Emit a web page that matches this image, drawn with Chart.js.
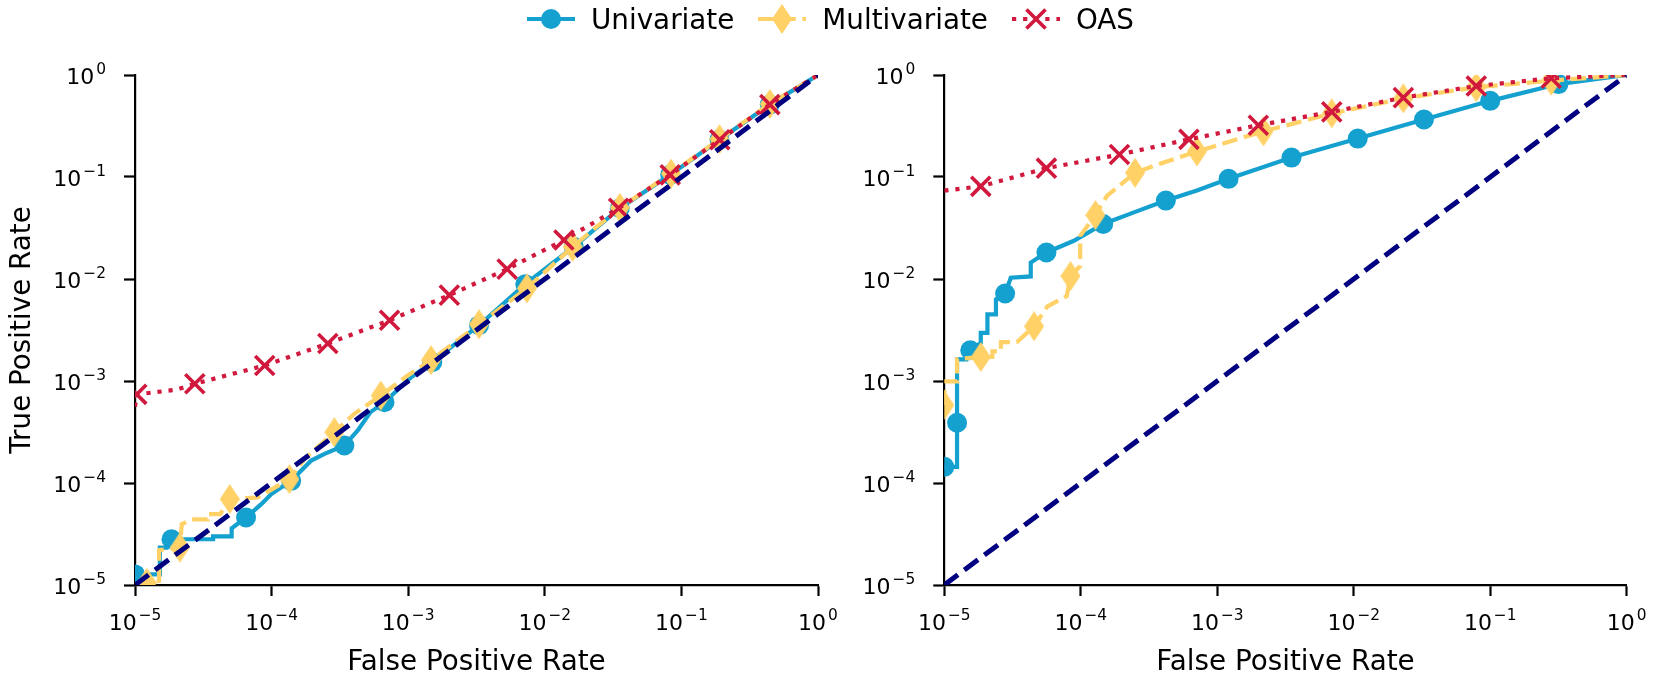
<!DOCTYPE html>
<html>
<head>
<meta charset="utf-8">
<title>ROC curves</title>
<script src="https://cdn.jsdelivr.net/npm/chart.js"></script>
<style>
  html, body { margin: 0; padding: 0; background: #fff; }
  #figure { position: relative; width: 1661px; height: 688px; overflow: hidden; font-family: 'DejaVu Sans', sans-serif; }
  #leftChart { position: absolute; left: 0; top: 0; }
  #rightChart { position: absolute; left: 830px; top: 0; }
  #legend { position: absolute; left: 0; top: 0; width: 1661px; height: 38px; display: flex; justify-content: center; align-items: center; z-index: 2; }
  .item { display: flex; align-items: center; font-size: 27.8px; color: #000; }
  .item + .item { margin-left: 24px; }
  .item canvas { margin-right: 16px; }
</style>
</head>
<body>
<div id="figure">
  <div id="legend"></div>
  <canvas id="leftChart" width="840" height="688"></canvas>
  <canvas id="rightChart" width="831" height="688"></canvas>
</div>
<script>
// axes: decade ticks, labelled 10^exp
const decades = [1e-5, 1e-4, 1e-3, 1e-2, 1e-1, 1];
const tickBase = '10';
const tickExponents = ['−5', '−4', '−3', '−2', '−1', '0'];
const seriesNames = ['Univariate', 'Multivariate', 'OAS'];

// chance line
const diagX = [1e-5, 1];
const diagY = [1e-5, 1];

// left panel - Univariate
const leftUniX = [1e-5, 1.52e-5, 1.52e-5, 1.7e-5, 1.7e-5, 1.85e-5, 3.73e-5, 3.73e-5, 5.1e-5, 5.1e-5, 6.5e-5, 8.4e-5, 9.95e-5, 1.39e-4, 1.95e-4, 2.44e-4, 3.41e-4, 4.27e-4, 5.3e-4, 6.7e-4, 1.05e-3, 1.5e-3, 3.3e-3, 7.2e-3, 0.0163, 0.0354, 0.0828, 0.19, 0.444, 1];
const leftUniY = [1.27e-5, 1.27e-5, 2.33e-5, 2.33e-5, 2.81e-5, 2.81e-5, 2.81e-5, 3.0e-5, 3.0e-5, 3.6e-5, 4.59e-5, 6.2e-5, 7.8e-5, 1.05e-4, 1.66e-4, 1.93e-4, 2.33e-4, 3.27e-4, 4.95e-4, 6.2e-4, 1.09e-3, 1.53e-3, 3.52e-3, 8.9e-3, 0.0207, 0.0494, 0.105, 0.232, 0.513, 1];
const leftUniMarks = [0, 5, 10, 13, 16, 19, 21, 22, 23, 24, 25, 26, 27, 28];

// left panel - Multivariate
const leftMulX = [1e-5, 1.22e-5, 1.5e-5, 1.5e-5, 2.13e-5, 2.2e-5, 2.6e-5, 3.4e-5, 3.4e-5, 4.2e-5, 4.94e-5, 7.9e-5, 1.35e-4, 1.74e-4, 2.88e-4, 4.03e-4, 6.3e-4, 9.9e-4, 1.47e-3, 3.3e-3, 7.4e-3, 0.016, 0.0354, 0.084, 0.19, 0.444, 1];
const leftMulY = [1.0e-5, 1.05e-5, 1.1e-5, 2.2e-5, 2.33e-5, 3.95e-5, 4.4e-5, 4.4e-5, 4.96e-5, 4.96e-5, 6.96e-5, 7.2e-5, 1.09e-4, 1.72e-4, 3.15e-4, 4.77e-4, 7.2e-4, 1.13e-3, 1.6e-3, 3.6e-3, 8.1e-3, 0.0207, 0.05, 0.108, 0.235, 0.52, 1];
const leftMulMarks = [1, 4, 10, 12, 14, 16, 18, 19, 20, 21, 22, 23, 24, 25];

// left panel - OAS
const leftOasX = [1e-5, 1.03e-5, 2.0e-5, 2.74e-5, 8.9e-5, 2.58e-4, 7.3e-4, 2.0e-3, 5.3e-3, 0.0138, 0.0347, 0.0828, 0.191, 0.444, 1];
const leftOasY = [5.6e-4, 7.4e-4, 8.2e-4, 9.4e-4, 1.42e-3, 2.33e-3, 3.94e-3, 6.95e-3, 0.0125, 0.0241, 0.0494, 0.105, 0.232, 0.513, 1];
const leftOasMarks = [1, 3, 4, 5, 6, 7, 8, 9, 10, 11, 12, 13];

// right panel - Univariate
const rightUniX = [1e-5, 1.24e-5, 1.24e-5, 1.24e-5, 1.45e-5, 1.45e-5, 1.55e-5, 1.85e-5, 1.85e-5, 2.07e-5, 2.07e-5, 2.39e-5, 2.39e-5, 2.79e-5, 3.07e-5, 4.3e-5, 4.3e-5, 5.6e-5, 8.9e-5, 1.46e-4, 2.45e-4, 4.2e-4, 7.1e-4, 1.21e-3, 3.5e-3, 0.0107, 0.0327, 0.1, 0.316, 1];
const rightUniY = [1.44e-4, 1.44e-4, 3.9e-4, 1.63e-3, 1.63e-3, 2.0e-3, 2.0e-3, 2.36e-3, 2.96e-3, 2.96e-3, 4.49e-3, 4.49e-3, 6.3e-3, 7.2e-3, 0.0103, 0.0106, 0.0145, 0.0182, 0.0237, 0.0346, 0.045, 0.0587, 0.0736, 0.096, 0.155, 0.238, 0.366, 0.558, 0.815, 1];
const rightUniMarks = [0, 2, 6, 13, 17, 19, 21, 23, 24, 25, 26, 27, 28];

// right panel - Multivariate
const rightMulX = [1e-5, 1e-5, 1.24e-5, 1.24e-5, 1.85e-5, 2.25e-5, 2.25e-5, 2.6e-5, 2.6e-5, 3.4e-5, 4.55e-5, 5.7e-5, 7.9e-5, 8.4e-5, 9.9e-5, 9.9e-5, 1.28e-4, 1.56e-4, 2.5e-4, 3.8e-4, 7.1e-4, 2.18e-3, 6.9e-3, 0.0231, 0.079, 0.28, 1];
const rightMulY = [5.8e-4, 9.9e-4, 9.9e-4, 1.64e-3, 1.72e-3, 1.72e-3, 1.95e-3, 1.95e-3, 2.4e-3, 2.4e-3, 3.44e-3, 5.4e-3, 6.8e-3, 0.0107, 0.0134, 0.0265, 0.0424, 0.0657, 0.11, 0.135, 0.178, 0.28, 0.42, 0.59, 0.76, 0.88, 1];
const rightMulMarks = [0, 4, 10, 13, 16, 18, 20, 21, 22, 23, 24, 25];

// right panel - OAS
const rightOasX = [1e-5, 1.85e-5, 5.6e-5, 1.92e-4, 6.2e-4, 2.0e-3, 6.9e-3, 0.0231, 0.079, 0.28, 1];
const rightOasY = [0.0736, 0.081, 0.122, 0.166, 0.234, 0.322, 0.435, 0.60, 0.78, 0.93, 1];
const rightOasMarks = [1, 2, 3, 4, 5, 6, 7, 8, 9];

const FONT = 'DejaVu Sans';
const BLUE = '#15a1cf';
const YELLOW = '#ffd166';
const RED = '#d1193e';
const NAVY = '#000080';
const LW = 4.2;

// thin diamond marker (matplotlib 'd')
function makeDiamond(w, h, color) {
    const c = document.createElement('canvas');
    c.width = w;
    c.height = h;
    const g = c.getContext('2d');
    g.fillStyle = color;
    g.beginPath();
    g.moveTo(w / 2, 0);
    g.lineTo(w, h / 2);
    g.lineTo(w / 2, h);
    g.lineTo(0, h / 2);
    g.closePath();
    g.fill();
    return c;
}
const diamond = makeDiamond(20, 30, YELLOW);

const styles = {
    uni: { color: BLUE, dash: [], pointStyle: 'circle', radius: 10, pointBorderWidth: 0 },
    mul: { color: YELLOW, dash: [15.5, 6.7], pointStyle: diamond, radius: 10, pointBorderWidth: 0 },
    oas: { color: RED, dash: [4.2, 6.9], pointStyle: 'crossRot', radius: 13.5, pointBorderWidth: 3.6 }
};

function series(label, xs, ys, marks, st, order) {
    return {
        label: label,
        data: xs.map((x, i) => ({ x: x, y: ys[i] })),
        borderColor: st.color,
        backgroundColor: st.color,
        borderWidth: LW,
        borderDash: st.dash,
        tension: 0,
        fill: false,
        pointStyle: st.pointStyle,
        pointRadius: ctx => marks.includes(ctx.dataIndex) ? st.radius : 0,
        pointBackgroundColor: st.color,
        pointBorderColor: st.color,
        pointBorderWidth: st.pointBorderWidth,
        pointHoverRadius: 0,
        clip: 0,
        order: order
    };
}

function diagonal() {
    return {
        label: 'chance',
        data: diagX.map((x, i) => ({ x: x, y: diagY[i] })),
        borderColor: NAVY,
        borderWidth: 5,
        borderDash: [17, 8],
        pointRadius: 0,
        fill: false,
        clip: 0,
        order: 0
    };
}

// "10" with a raised exponent, like matplotlib's mathtext tick labels
function drawPower(ctx, x, baseline, align, exp) {
    const big = '22px "' + FONT + '"';
    const small = '15.4px "' + FONT + '"';
    ctx.font = big;
    const wb = ctx.measureText(tickBase).width;
    ctx.font = small;
    const ws = ctx.measureText(exp).width;
    const gap = 2;
    const total = wb + gap + ws;
    const left = align === 'center' ? x - total / 2 : x - total;
    ctx.textAlign = 'left';
    ctx.textBaseline = 'alphabetic';
    ctx.font = big;
    ctx.fillText(tickBase, left, baseline);
    ctx.font = small;
    ctx.fillText(exp, left + wb + gap, baseline - 9.3);
}

const powerTicks = {
    id: 'powerTicks',
    afterDraw(chart) {
        const ctx = chart.ctx;
        const area = chart.chartArea;
        const xs = chart.scales.x;
        const ys = chart.scales.y;
        ctx.save();
        ctx.fillStyle = '#000';
        decades.forEach((v, i) => {
            drawPower(ctx, xs.getPixelForValue(v), area.bottom + 44.6, 'center', tickExponents[i]);
            drawPower(ctx, area.left - 29, ys.getPixelForValue(v) + 8.5, 'right', tickExponents[i]);
        });
        ctx.restore();
    }
};

function logAxis(isX, withTitle, fixedSize) {
    const axis = {
        type: 'logarithmic',
        min: 1e-5,
        max: 1,
        afterBuildTicks: (scale) => {
            scale.ticks = decades.map(v => ({ value: v }));
        },
        afterFit: (scale) => {
            if (isX) scale.height = fixedSize;
            else scale.width = fixedSize;
        },
        ticks: { display: false },
        grid: {
            drawOnChartArea: false,
            drawTicks: true,
            tickLength: 11,
            tickWidth: 2.2,
            tickColor: '#000'
        },
        border: { display: true, color: '#000', width: 2.2 }
    };
    if (withTitle) {
        axis.title = {
            display: true,
            text: isX ? 'False Positive Rate' : 'True Positive Rate',
            font: { family: FONT, size: 27.8 },
            color: '#000',
            padding: isX ? { top: 0, bottom: 9 } : { top: 6, bottom: 0 }
        };
    }
    return axis;
}

function createPanel(id, datasets, yWidth, padRight) {
    const ctx = document.getElementById(id);
    return new Chart(ctx, {
        type: 'line',
        data: { datasets: datasets },
        options: {
            responsive: false,
            animation: false,
            events: [],
            layout: { padding: { top: 75, right: padRight, bottom: 0, left: 0 } },
            plugins: {
                legend: { display: false },
                tooltip: { enabled: false },
                title: { display: false }
            },
            scales: {
                x: logAxis(true, true, 103),
                y: logAxis(false, yWidth > 120, yWidth)
            }
        },
        plugins: [powerTicks]
    });
}

createPanel('leftChart', [
    diagonal(),
    series(seriesNames[2], leftOasX, leftOasY, leftOasMarks, styles.oas, 1),
    series(seriesNames[1], leftMulX, leftMulY, leftMulMarks, styles.mul, 2),
    series(seriesNames[0], leftUniX, leftUniY, leftUniMarks, styles.uni, 3)
], 135, 22);

createPanel('rightChart', [
    diagonal(),
    series(seriesNames[2], rightOasX, rightOasY, rightOasMarks, styles.oas, 1),
    series(seriesNames[1], rightMulX, rightMulY, rightMulMarks, styles.mul, 2),
    series(seriesNames[0], rightUniX, rightUniY, rightUniMarks, styles.uni, 3)
], 114.3, 34.3);

// legend: line sample + marker, then name
function drawSample(canvas, st) {
    const g = canvas.getContext('2d');
    const w = canvas.width, h = canvas.height;
    g.strokeStyle = st.color;
    g.lineWidth = LW;
    g.setLineDash(st.dash);
    g.beginPath();
    g.moveTo(0, h / 2);
    g.lineTo(w, h / 2);
    g.stroke();
    g.setLineDash([]);
    if (st.pointStyle === 'circle') {
        g.fillStyle = st.color;
        g.beginPath();
        g.arc(w / 2, h / 2, st.radius, 0, Math.PI * 2);
        g.fill();
    } else if (st.pointStyle === 'crossRot') {
        const r = st.radius * Math.SQRT1_2;
        g.lineWidth = st.pointBorderWidth;
        g.beginPath();
        g.moveTo(w / 2 - r, h / 2 - r);
        g.lineTo(w / 2 + r, h / 2 + r);
        g.moveTo(w / 2 + r, h / 2 - r);
        g.lineTo(w / 2 - r, h / 2 + r);
        g.stroke();
    } else {
        g.drawImage(st.pointStyle, w / 2 - st.pointStyle.width / 2, h / 2 - st.pointStyle.height / 2);
    }
}

const legend = document.getElementById('legend');
[styles.uni, styles.mul, styles.oas].forEach((st, i) => {
    const item = document.createElement('div');
    item.className = 'item';
    const c = document.createElement('canvas');
    c.width = 48;
    c.height = 32;
    drawSample(c, st);
    const span = document.createElement('span');
    span.textContent = seriesNames[i];
    item.appendChild(c);
    item.appendChild(span);
    legend.appendChild(item);
});
</script>
</body>
</html>
